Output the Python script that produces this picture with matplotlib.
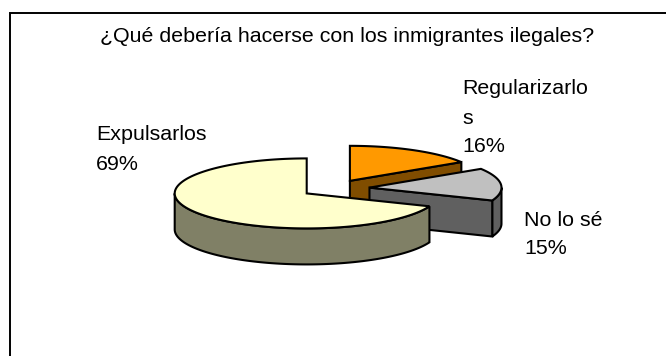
import numpy as np
import matplotlib
matplotlib.use("Agg")
import matplotlib.pyplot as plt
from matplotlib.patches import Polygon

plt.rcParams['font.family'] = ['Liberation Sans', 'DejaVu Sans']

title = "¿Qué debería hacerse con los inmigrantes ilegales?"
categories = ["Regularizarlo\ns", "No lo sé", "Expulsarlos"]
values = [16, 15, 69]
top_colors = ["#FF9900", "#C0C0C0", "#FFFFCC"]
side_colors = ["#804D00", "#606060", "#808066"]
label_pos = [(462, 89), (524, 220), (96, 135)]
explode = [0.25, 0.27, 0.25]

W, H = 666, 356
CX, CY, A, B, DEPTH = 334, 188.5, 132, 35, 36
LW = 1.5
FS = 15.4

fig = plt.figure(figsize=(W / 100, H / 100), dpi=100)
ax = fig.add_axes([0, 0, 1, 1])
ax.set_xlim(0, W)
ax.set_ylim(H, 0)
ax.axis("off")

# frame: left and top edges reach the image edge
ax.plot([9.5, 9.5, W], [H, 12.5, 12.5], color="black", lw=1.4, solid_joinstyle="miter")

ax.text(347, 36, title, ha="center", va="center", fontsize=FS, color="black")


def pt(theta, cx, cy):
    return cx + A * np.sin(theta), cy - B * np.cos(theta)


fracs = np.array(values) / sum(values)
ends = np.cumsum(fracs) * 2 * np.pi
starts = ends - fracs * 2 * np.pi

for i in range(len(values)):
    t0, t1 = starts[i], ends[i]
    mid = (t0 + t1) / 2
    cx = CX + explode[i] * A * np.sin(mid)
    cy = CY - explode[i] * B * np.cos(mid)
    xs, ys = pt(np.linspace(t0, t1, 200), cx, cy)

    # front rim (part of the arc facing the viewer)
    lo, hi = max(t0, np.pi / 2), min(t1, 3 * np.pi / 2)
    if hi > lo:
        rx, ry = pt(np.linspace(lo, hi, 150), cx, cy)
        rim = np.column_stack([np.r_[rx, rx[::-1]], np.r_[ry, ry[::-1] + DEPTH]])
        ax.add_patch(Polygon(rim, closed=True, fc=side_colors[i], ec="black", lw=LW, zorder=i * 3 + 1))

    # trailing cut face is visible for slices ending on the right-hand side
    if t1 < np.pi:
        ex, ey = pt(t1, cx, cy)
        face = [(cx, cy), (ex, ey), (ex, ey + DEPTH), (cx, cy + DEPTH)]
        ax.add_patch(Polygon(face, closed=True, fc=side_colors[i], ec="black", lw=LW, zorder=i * 3 + 1))

    top = np.column_stack([np.r_[cx, xs], np.r_[cy, ys]])
    ax.add_patch(Polygon(top, closed=True, fc=top_colors[i], ec="black", lw=LW,
                         joinstyle="miter", zorder=i * 3 + 2))

    x, y = label_pos[i]
    lines = categories[i].split("\n") + [f"{values[i]}%"]
    for k, s in enumerate(lines):
        ax.text(x, y + k * 29, s, ha="left", va="center", fontsize=FS, color="black", zorder=20)

fig.savefig("out.png", dpi=100)
